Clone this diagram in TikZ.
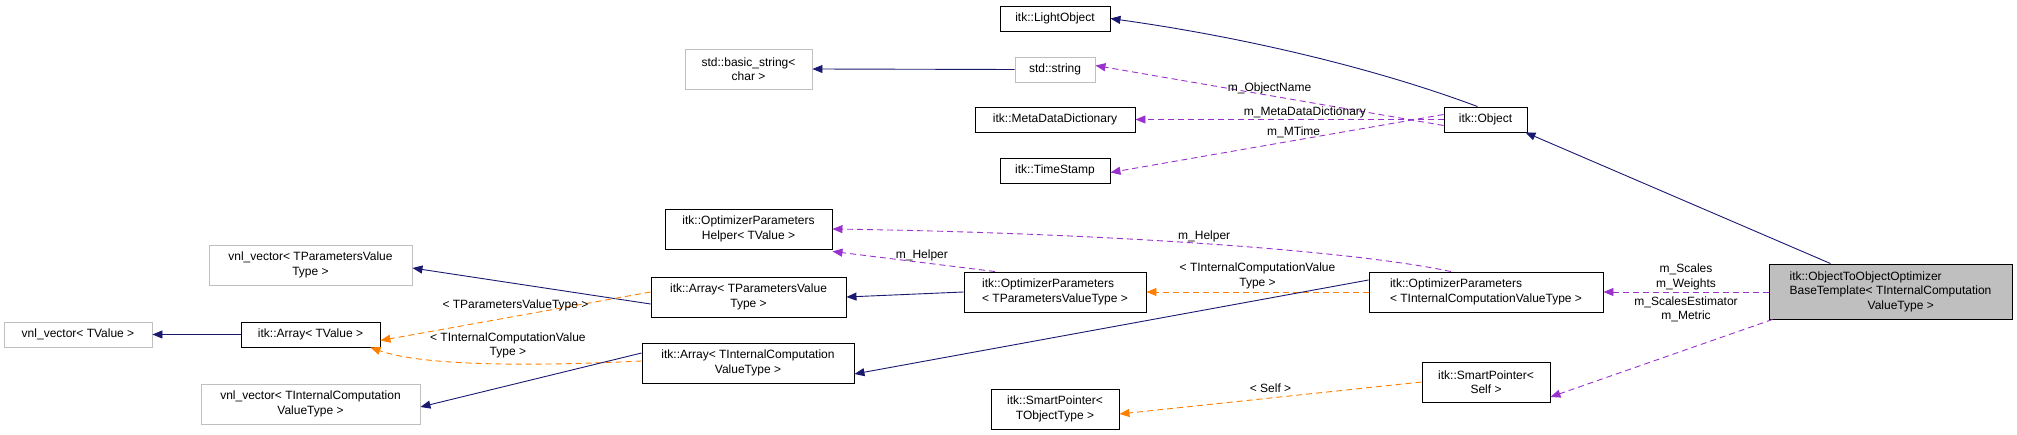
\documentclass[tikz,border=0pt]{standalone}
\usepackage{fontspec}
\setmainfont{Liberation Sans}
\usetikzlibrary{arrows.meta}
\begin{document}
\begin{tikzpicture}[x=1pt,y=-1pt,
  font=\fontsize{12}{14.5}\selectfont,
  box/.style={draw=black,line width=0.9pt,fill=white,inner sep=0pt,align=center},
  gbox/.style={box,draw=black!25},
  mbox/.style={box,fill=black!25},
  inh/.style={draw={rgb,255:red,25;green,25;blue,112},line width=0.9pt,-{Triangle[length=10pt,width=8pt]}},
  use/.style={draw={rgb,255:red,153;green,50;blue,204},line width=0.9pt,dash pattern=on 6pt off 4pt,-{Triangle[length=10pt,width=8pt]}},
  tpl/.style={draw=orange,line width=0.9pt,dash pattern=on 6pt off 4pt,-{Triangle[length=10pt,width=8pt]}},
  lbl/.style={inner sep=0pt,align=center}]
\useasboundingbox (0,0) rectangle (2017,435);
\newcommand{\bx}[6]{\node[#1,minimum width=#4-#2,minimum height=#5-#3] (#6) at ({(#2+#4)/2},{(#3+#5)/2})}
\bx{box}{1000}{6}{1110}{31}{light} {itk::LightObject};
\bx{gbox}{685}{49}{812}{89}{bstr} {std::basic\_string\textless\\char \textgreater};
\bx{gbox}{1015}{57}{1095}{82}{str} {std::string};
\bx{box}{975}{107}{1135}{132}{meta} {itk::MetaDataDictionary};
\bx{box}{1000}{158}{1110}{183}{time} {itk::TimeStamp};
\bx{box}{1444}{107}{1527}{132}{obj} {itk::Object};
\bx{box}{665}{209}{832}{249}{help} {itk::OptimizerParameters\\Helper\textless\ TValue \textgreater};
\bx{box}{651}{277}{846}{317}{arrp} {itk::Array\textless\ TParametersValue\\Type \textgreater};
\bx{box}{964}{272}{1146}{312}{optp} {};
\node[lbl,align=left] at (optp) {itk::OptimizerParameters\\\textless\ TParametersValueType \textgreater};
\bx{box}{642}{343}{854}{383}{arri} {itk::Array\textless\ TInternalComputation\\ValueType \textgreater};
\bx{box}{991}{389}{1119}{429}{spo} {itk::SmartPointer\textless\\TObjectType \textgreater};
\bx{gbox}{209}{245}{412}{285}{vnlp} {vnl\_vector\textless\ TParametersValue\\Type \textgreater};
\bx{gbox}{4}{322}{152}{347}{vnlv} {vnl\_vector\textless\ TValue \textgreater};
\bx{box}{241}{322}{380}{347}{arrv} {itk::Array\textless\ TValue \textgreater};
\bx{gbox}{201}{384}{420}{424}{vnli} {vnl\_vector\textless\ TInternalComputation\\ValueType \textgreater};
\bx{box}{1369}{272}{1603}{312}{opti} {};
\node[lbl,align=left] at (opti) {itk::OptimizerParameters\\\textless\ TInternalComputationValueType \textgreater};
\bx{box}{1422}{362}{1550}{402}{sps} {itk::SmartPointer\textless\\Self \textgreater};
\bx{mbox}{1769}{264}{2012}{319}{main} {};
\node[lbl,align=left] at (main) {itk::ObjectToObjectOptimizer\\BaseTemplate\textless\ TInternalComputation\\\hspace*{6.5em}ValueType \textgreater};
% edges
\draw[inh] (obj.north) ++(-8,0) coordinate (o1) .. controls (1380,70) and (1250,38) .. (light.east);
\draw[inh] (str.west) -- (bstr.east);
\draw[use] ([yshift=-6pt]obj.west) -- ([yshift=4pt]str.east) node[lbl,pos=0.5,above=1pt] {m\_ObjectName};
\draw[use] (obj.west |- meta.east) -- (meta.east) node[lbl,pos=0.45,above=1pt] {m\_MetaDataDictionary};
\draw[use] ([yshift=5pt]obj.west) -- ([yshift=-2pt]time.east) node[lbl,pos=0.45,above=2pt] {m\_MTime};
\draw[inh] ([xshift=-60pt]main.north) coordinate (m1) -- ([xshift=-2pt]obj.south east);
\draw[use] ([xshift=-35pt]opti.north) .. controls (1350,250) and (1100,233) .. ([yshift=0pt]help.east) node[lbl,pos=0.5,above=1pt] {m\_Helper};
\draw[use] ([xshift=-60pt]optp.north) -- ([yshift=-2pt]help.south east) node[lbl,pos=0.45,above=1pt] {m\_Helper};
\draw[inh] (optp.west) -- (arrp.east);
\draw[tpl] (opti.west |- optp.east) -- (optp.east) node[lbl,pos=0.5,above=3pt] {\textless\ TInternalComputationValue\\Type \textgreater};
\draw[inh] ([yshift=12pt]opti.west) -- ([yshift=-11pt]arri.east);
\draw[inh] ([yshift=-7pt]arrp.west) -- ([yshift=-3pt]vnlp.east);
\draw[tpl] ([yshift=5pt]arrp.west) -- ([yshift=-6pt]arrv.east) node[lbl,pos=0.5,above=5pt] {\textless\ TParametersValueType \textgreater};
\draw[tpl] ([yshift=2pt]arri.west) .. controls (520,367) and (420,365) .. ([xshift=-10pt]arrv.south east) node[lbl,pos=0.4,above=5pt] {\textless\ TInternalComputationValue\\Type \textgreater};
\draw[inh] ([yshift=10pt]arri.west) -- ([yshift=-3pt]vnli.east);
\draw[inh] (arrv.west) -- (vnlv.east);
\draw[tpl] (sps.west) -- ([yshift=-5pt]spo.east) node[lbl,pos=0.5,above=5pt] {\textless\ Self \textgreater};
\draw[use] (main.west |- opti.east) -- (opti.east) node[lbl,pos=0.5,above=2pt] {m\_Scales\\m\_Weights} node[lbl,pos=0.5,below=4pt] {m\_ScalesEstimator\\m\_Metric};
\draw[use] ([xshift=4pt]main.south west) -- ([yshift=-15pt]sps.east);
\end{tikzpicture}
\end{document}
